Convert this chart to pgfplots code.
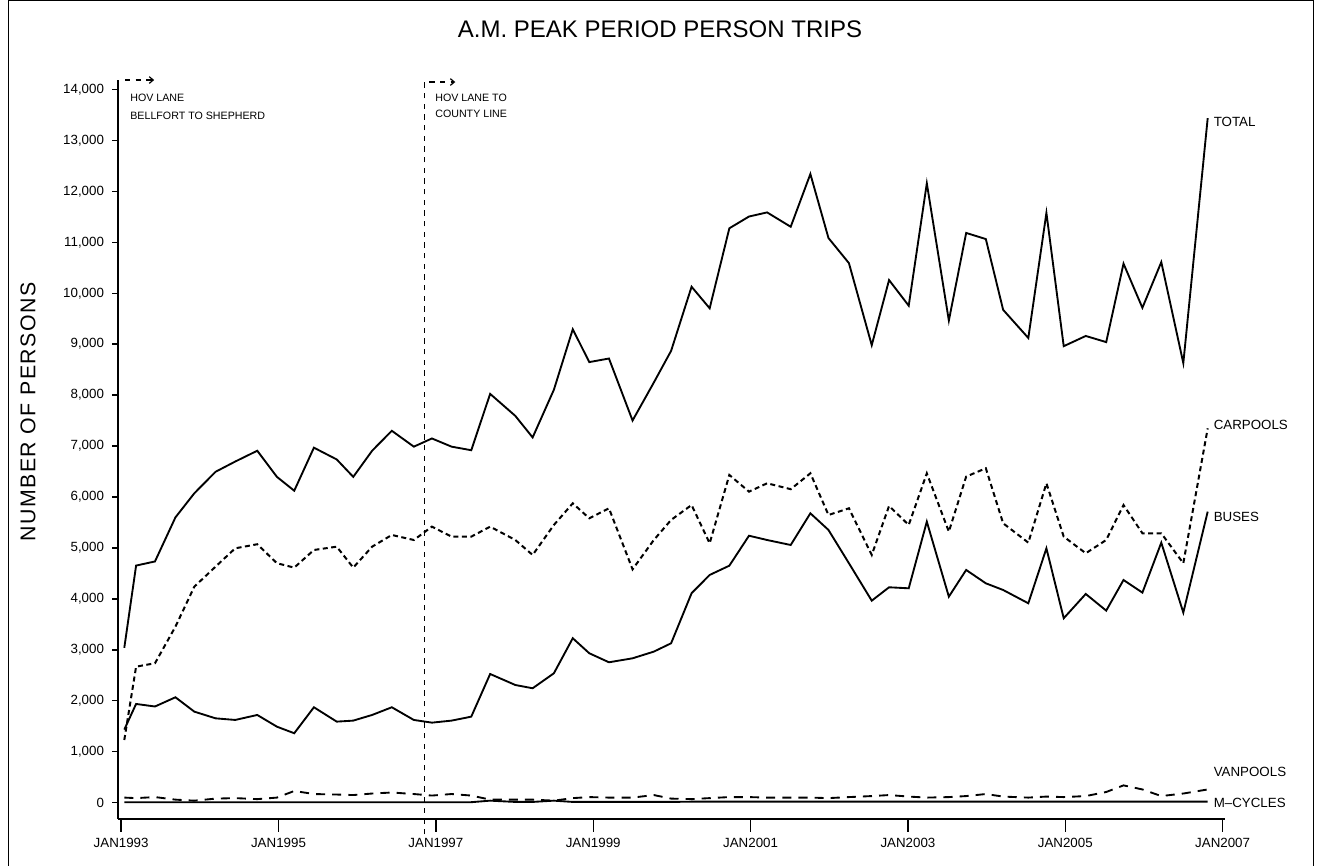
\documentclass[border=0pt]{standalone}
\usepackage{fontspec}
\setmainfont{Liberation Sans}
\usepackage{pgfplots}
\pgfplotsset{compat=1.18}
\usepackage{pgfplotstable}
\usetikzlibrary{arrows.meta}

\pgfplotstableread{
x total carpools buses vanpools mcycles
1993.04 3040 1231 1435 100 10
1993.19 4654 2670 1938 90 10
1993.43 4735 2737 1888 110 10
1993.69 5600 3455 2069 60 10
1993.93 6073 4240 1787 40 10
1994.20 6495 4633 1656 80 10
1994.45 6696 4993 1624 90 10
1994.73 6908 5073 1722 70 10
1994.98 6395 4700 1492 100 10
1995.20 6123 4614 1363 230 10
1995.45 6968 4960 1873 170 10
1995.74 6737 5025 1591 160 10
1995.95 6395 4614 1611 150 10
1996.19 6908 5025 1722 180 10
1996.44 7300 5255 1873 200 10
1996.72 6988 5156 1624 170 10
1996.95 7149 5418 1571 140 10
1997.20 6988 5222 1611 170 10
1997.45 6918 5222 1689 140 10
1997.69 8024 5418 2526 60 40
1998.01 7592 5156 2310 60 15
1998.23 7169 4862 2246 60 15
1998.50 8105 5451 2540 40 40
1998.74 9292 5876 3228 90 15
1998.95 8648 5582 2933 110 15
1999.20 8718 5778 2756 100 15
1999.50 7501 4580 2834 100 15
1999.77 8246 5156 2965 150 15
1999.99 8869 5550 3129 80 15
2000.25 10127 5843 4111 70 20
2000.48 9704 5091 4470 90 20
2000.73 11274 6433 4652 110 20
2000.98 11505 6105 5240 110 20
2001.21 11586 6269 5156 100 20
2001.51 11304 6153 5058 100 20
2001.76 12340 6465 5680 100 20
2001.99 11083 5647 5353 90 20
2002.25 10590 5778 4700 110 20
2002.54 8980 4862 3965 130 20
2002.76 10258 5824 4228 150 20
2003.01 9755 5451 4208 120 20
2003.24 12157 6465 5516 100 20
2003.52 9463 5320 4044 110 20
2003.74 11183 6400 4568 130 20
2003.99 11063 6564 4306 170 20
2004.21 9674 5484 4175 120 20
2004.53 9121 5104 3914 100 20
2004.76 11576 6269 4993 120 20
2004.98 8960 5222 3620 110 20
2005.26 9161 4896 4097 130 20
2005.52 9040 5156 3770 210 20
2005.74 10580 5843 4371 340 20
2005.98 9714 5288 4123 260 20
2006.22 10610 5288 5104 130 20
2006.50 8628 4700 3731 180 20
2006.81 13437 7348 5713 260 20
}\data

\begin{document}
\begin{tikzpicture}
\useasboundingbox (0,0) rectangle (992.25pt,649.5pt);
\draw[line width=0.7pt] (6pt,0) -- (6pt,648.9pt) -- (984.75pt,648.9pt) -- (984.75pt,0);
\node[font=\fontsize{18}{20}\selectfont] at (495pt,627.75pt) {A.M. PEAK PERIOD PERSON TRIPS};
\node[rotate=90, font=\fontsize{16}{18}\selectfont\addfontfeature{LetterSpace=7}] at (21pt,340.5pt) {NUMBER OF PERSONS};
\begin{axis}[
  at={(88.5pt,35.25pt)}, anchor=south west, scale only axis,
  width=830.25pt, height=554.25pt,
  xmin=1992.96, xmax=2007.03, ymin=-320, ymax=14185,
  axis x line*=bottom, axis y line*=left,
  axis line style={line width=1.6pt, black},
  xtick={1993,1995,1997,1999,2001,2003,2005,2007},
  xticklabels={JAN1993,JAN1995,JAN1997,JAN1999,JAN2001,JAN2003,JAN2005,JAN2007},
  ytick={0,1000,...,14000},
  scaled y ticks=false,
  tick align=outside, major tick length=4.5pt,
  xtick style={draw=none},
  ytick style={line width=1pt, black},
  tick label style={font=\fontsize{10}{12}\selectfont},
  xticklabel style={yshift=-6pt},
  yticklabel style={xshift=-2.5pt},
  /pgf/number format/1000 sep={,},
  /pgf/number format/assume math mode=true,
  clip=false,
]
\pgfplotsinvokeforeach{1993,1995,1997,1999,2001,2003,2005,2007}{
  \draw[line width=1pt] (axis cs:#1,-320) -- ++(0pt,-10pt);
}
\addplot[black, line width=1.4pt] table[x=x,y=total]{\data};
\addplot[black, line width=1.5pt, dash pattern=on 3.75pt off 2.6pt] table[x=x,y=carpools]{\data};
\addplot[black, line width=1.4pt] table[x=x,y=buses]{\data};
\addplot[black, line width=1.4pt, dash pattern=on 6.8pt off 5.3pt] table[x=x,y=vanpools]{\data};
\addplot[black, line width=1.4pt] table[x=x,y=mcycles]{\data};
% HOV lane markers
\addplot[black, line width=0.9pt, dash pattern=on 4pt off 4pt, -{Straight Barb[length=3pt,width=5pt]}] coordinates {(1996.853,-620) (1996.853,14145) (1997.247,14145)};
\addplot[black, line width=0.9pt, dash pattern=on 4pt off 4pt, -{Straight Barb[length=3pt,width=5pt]}] coordinates {(1993.05,14184) (1993.42,14184)};
\node[anchor=west, inner sep=0, font=\fontsize{8}{9}\selectfont] at (axis cs:1993.114,13841) {HOV LANE};
\node[anchor=west, inner sep=0, font=\fontsize{8}{9}\selectfont] at (axis cs:1993.114,13488) {BELLFORT TO SHEPHERD};
\node[anchor=west, inner sep=0, font=\fontsize{8}{9}\selectfont] at (axis cs:1996.99,13831) {HOV LANE TO};
\node[anchor=west, inner sep=0, font=\fontsize{8}{9}\selectfont] at (axis cs:1996.99,13517) {COUNTY LINE};
% series labels
\node[anchor=west, inner sep=0, font=\fontsize{10}{12}\selectfont] at (axis cs:2006.884,13360) {TOTAL};
\node[anchor=west, inner sep=0, font=\fontsize{10}{12}\selectfont] at (axis cs:2006.884,7415) {CARPOOLS};
\node[anchor=west, inner sep=0, font=\fontsize{10}{12}\selectfont] at (axis cs:2006.884,5607) {BUSES};
\node[anchor=west, inner sep=0, font=\fontsize{10}{12}\selectfont] at (axis cs:2006.884,603) {VANPOOLS};
\node[anchor=west, inner sep=0, font=\fontsize{10}{12}\selectfont] at (axis cs:2006.884,-6) {M--CYCLES};
\end{axis}
\end{tikzpicture}
\end{document}
